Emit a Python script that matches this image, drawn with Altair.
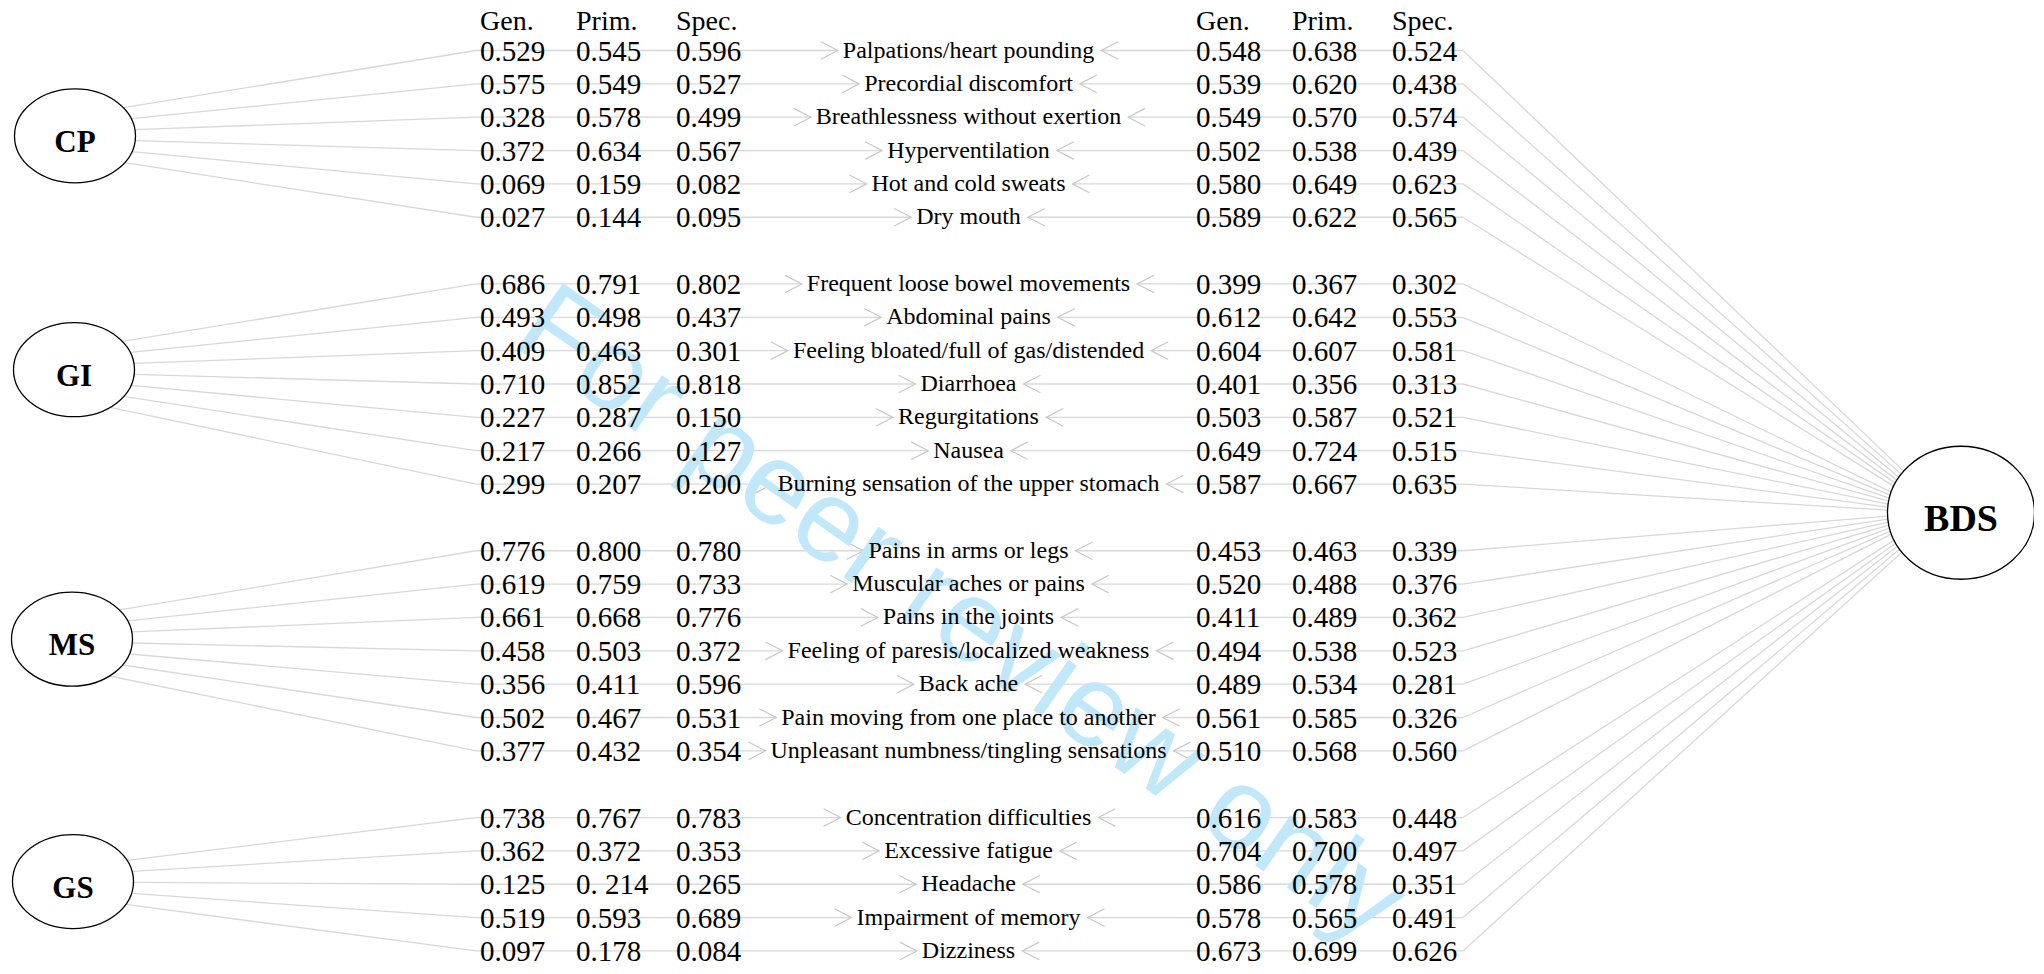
import math
import altair as alt
import pandas as pd

# ---------------- data ----------------
headers = ["Gen.", "Prim.", "Spec."]

row_group = ["CP"] * 6 + ["GI"] * 7 + ["MS"] * 7 + ["GS"] * 5
row_index = [0, 1, 2, 3, 4, 5,
             7, 8, 9, 10, 11, 12, 13,
             15, 16, 17, 18, 19, 20, 21,
             23, 24, 25, 26, 27]
symptom = [
    "Palpations/heart pounding", "Precordial discomfort", "Breathlessness without exertion",
    "Hyperventilation", "Hot and cold sweats", "Dry mouth",
    "Frequent loose bowel movements", "Abdominal pains", "Feeling bloated/full of gas/distended",
    "Diarrhoea", "Regurgitations", "Nausea", "Burning sensation of the upper stomach",
    "Pains in arms or legs", "Muscular aches or pains", "Pains in the joints",
    "Feeling of paresis/localized weakness", "Back ache", "Pain moving from one place to another",
    "Unpleasant numbness/tingling sensations",
    "Concentration difficulties", "Excessive fatigue", "Headache", "Impairment of memory", "Dizziness",
]
left_gen = ["0.529", "0.575", "0.328", "0.372", "0.069", "0.027",
            "0.686", "0.493", "0.409", "0.710", "0.227", "0.217", "0.299",
            "0.776", "0.619", "0.661", "0.458", "0.356", "0.502", "0.377",
            "0.738", "0.362", "0.125", "0.519", "0.097"]
left_prim = ["0.545", "0.549", "0.578", "0.634", "0.159", "0.144",
             "0.791", "0.498", "0.463", "0.852", "0.287", "0.266", "0.207",
             "0.800", "0.759", "0.668", "0.503", "0.411", "0.467", "0.432",
             "0.767", "0.372", "0. 214", "0.593", "0.178"]
left_spec = ["0.596", "0.527", "0.499", "0.567", "0.082", "0.095",
             "0.802", "0.437", "0.301", "0.818", "0.150", "0.127", "0.200",
             "0.780", "0.733", "0.776", "0.372", "0.596", "0.531", "0.354",
             "0.783", "0.353", "0.265", "0.689", "0.084"]
right_gen = ["0.548", "0.539", "0.549", "0.502", "0.580", "0.589",
             "0.399", "0.612", "0.604", "0.401", "0.503", "0.649", "0.587",
             "0.453", "0.520", "0.411", "0.494", "0.489", "0.561", "0.510",
             "0.616", "0.704", "0.586", "0.578", "0.673"]
right_prim = ["0.638", "0.620", "0.570", "0.538", "0.649", "0.622",
              "0.367", "0.642", "0.607", "0.356", "0.587", "0.724", "0.667",
              "0.463", "0.488", "0.489", "0.538", "0.534", "0.585", "0.568",
              "0.583", "0.700", "0.578", "0.565", "0.699"]
right_spec = ["0.524", "0.438", "0.574", "0.439", "0.623", "0.565",
              "0.302", "0.553", "0.581", "0.313", "0.521", "0.515", "0.635",
              "0.339", "0.376", "0.362", "0.523", "0.281", "0.326", "0.560",
              "0.448", "0.497", "0.351", "0.491", "0.626"]

node_names = ["CP", "GI", "MS", "GS", "BDS"]
node_row = [2.56, 9.57, 17.65, 24.92, 13.86]   # node centres, in row units

watermark_text = "For peer review only"

# ---------------- layout ----------------
W, H = 2026, 954
ROW0, ROWH = 50.5, 33.35
X_LEFT_COLS = [480, 576, 676]
X_RIGHT_COLS = [1196, 1292, 1392]
X_LABEL = 968.5
X_LEFT_JOIN = 476
X_RIGHT_JOIN = 1463
node_x = {"CP": 75, "GI": 74, "MS": 72, "GS": 73, "BDS": 1961}
SMALL_RX, SMALL_RY = 60.5, 47.0
BIG_RX, BIG_RY = 73.5, 66.5
LABEL_FS = 24
NUM_FS = 29
LINE_COL = "#d8d8d8"

TIMES = {' ': 250, '/': 278, '.': 250, 'A': 722, 'B': 667, 'C': 667, 'D': 722, 'E': 611,
         'F': 556, 'G': 722, 'H': 722, 'I': 333, 'J': 389, 'K': 722, 'L': 611, 'M': 889,
         'N': 722, 'O': 722, 'P': 556, 'Q': 722, 'R': 667, 'S': 556, 'T': 611, 'U': 722,
         'V': 722, 'W': 944, 'X': 722, 'Y': 722, 'Z': 611, 'a': 444, 'b': 500, 'c': 444,
         'd': 500, 'e': 444, 'f': 333, 'g': 500, 'h': 500, 'i': 278, 'j': 278, 'k': 500,
         'l': 278, 'm': 778, 'n': 500, 'o': 500, 'p': 500, 'q': 500, 'r': 333, 's': 389,
         't': 278, 'u': 500, 'v': 500, 'w': 722, 'x': 500, 'y': 500, 'z': 444}


def text_w(s, fs):
    return sum(TIMES.get(c, 500) for c in s) * fs / 1000.0


def py(r):
    return ROW0 + r * ROWH


def pr(y):
    return (y - ROW0) / ROWH


R_TOP = pr(8)
R_BOT = pr(8 + H)
xs = alt.Scale(domain=[8, 8 + W], nice=False, zero=False)
ys = alt.Scale(domain=[R_BOT, R_TOP], nice=False, zero=False)
X = lambda f: alt.X(f, type="quantitative", scale=xs, axis=None)
Y = lambda f: alt.Y(f, type="quantitative", scale=ys, axis=None)

node_row_of = dict(zip(node_names, node_row))

# ---------------- line geometry ----------------
diag, horiz, chev = [], [], []
for g, r, lab in zip(row_group, row_index, symptom):
    ry_px = py(r)
    # left node -> row
    cy = py(node_row_of[g])
    dy = max(-0.9 * SMALL_RY, min(0.9 * SMALL_RY, 0.33 * (ry_px - cy)))
    sx = node_x[g] + SMALL_RX * math.sqrt(1 - (dy / SMALL_RY) ** 2)
    diag.append({"x": sx, "r": pr(cy + dy), "x2": X_LEFT_JOIN, "r2": r})
    # row -> BDS
    by = py(node_row_of["BDS"])
    dyb = 0.09 * (ry_px - by)
    ex = node_x["BDS"] - BIG_RX * math.sqrt(1 - (dyb / BIG_RY) ** 2)
    diag.append({"x": X_RIGHT_JOIN, "r": r, "x2": ex, "r2": pr(by + dyb)})
    # arrows to the label
    w = text_w(lab, LABEL_FS)
    lt = X_LABEL - w / 2 - 5
    rt = X_LABEL + w / 2 + 7
    horiz.append({"x": X_LEFT_JOIN, "x2": lt, "r": r, "r2": r})
    horiz.append({"x": rt, "x2": X_RIGHT_JOIN, "r": r, "r2": r})
    chev.append({"x": lt, "r": r, "shape": "M -1 -0.52 L 0 0 L -1 0.52"})
    chev.append({"x": rt, "r": r, "shape": "M 1 -0.52 L 0 0 L 1 0.52"})

lines_df = pd.DataFrame(diag + horiz)
chev_df = pd.DataFrame(chev)

lines = alt.Chart(lines_df).mark_rule(color=LINE_COL, strokeWidth=1.3).encode(
    x=X("x"), x2="x2", y=Y("r"), y2="r2")

chevrons = alt.Chart(chev_df).mark_point(
    filled=False, stroke="#c8c8c8", strokeWidth=1.2, opacity=1, size=1156
).encode(x=X("x"), y=Y("r"), shape=alt.Shape("shape:N", scale=None))

# watermark
wm_df = pd.DataFrame({"x": [960], "r": [pr(616)], "t": [watermark_text]})
watermark = alt.Chart(wm_df).mark_text(
    font="Liberation Sans", fontSize=116, angle=35, color="#c0e7fa",
    align="center", baseline="middle"
).encode(x=X("x"), y=Y("r"), text="t:N")

# nodes
ell_small = "M -1 0 A 1 %.4f 0 1 1 1 0 A 1 %.4f 0 1 1 -1 0 Z" % (SMALL_RY / SMALL_RX, SMALL_RY / SMALL_RX)
ell_big = "M -1 0 A 1 %.4f 0 1 1 1 0 A 1 %.4f 0 1 1 -1 0 Z" % (BIG_RY / BIG_RX, BIG_RY / BIG_RX)
nodes_df = pd.DataFrame({
    "name": node_names,
    "x": [node_x[n] for n in node_names],
    "r": node_row,
    "shape": [ell_small] * 4 + [ell_big],
    "size": [(2 * SMALL_RX) ** 2] * 4 + [(2 * BIG_RX) ** 2],
    "fs": [31, 31, 31, 31, 38],
})
nodes = alt.Chart(nodes_df).mark_point(
    filled=True, fill="white", fillOpacity=1, stroke="black", strokeWidth=1.3, opacity=1
).encode(x=X("x"), y=Y("r"), shape=alt.Shape("shape:N", scale=None),
         size=alt.Size("size:Q", scale=None))
node_text = alt.Chart(nodes_df).mark_text(
    font="Liberation Serif", fontWeight="bold", align="center", baseline="middle", dy=7, color="black"
).encode(x=X("x"), y=Y("r"), text="name:N", size=alt.Size("fs:Q", scale=None))

# headers
hdr_df = pd.DataFrame({
    "x": X_LEFT_COLS + X_RIGHT_COLS,
    "r": [-0.85] * 6,
    "t": headers + headers,
})
hdr = alt.Chart(hdr_df).mark_text(
    font="Liberation Serif", fontSize=28, align="left", baseline="middle", color="black"
).encode(x=X("x"), y=Y("r"), text="t:N")

# numbers
num_rows = []
for cols, xs_ in ((left_gen, X_LEFT_COLS[0]), (left_prim, X_LEFT_COLS[1]), (left_spec, X_LEFT_COLS[2]),
                  (right_gen, X_RIGHT_COLS[0]), (right_prim, X_RIGHT_COLS[1]), (right_spec, X_RIGHT_COLS[2])):
    for r, v in zip(row_index, cols):
        num_rows.append({"x": xs_, "r": r, "t": v})
num_df = pd.DataFrame(num_rows)
nums = alt.Chart(num_df).mark_text(
    font="Liberation Serif", fontSize=NUM_FS, align="left", baseline="middle", color="black", dy=1
).encode(x=X("x"), y=Y("r"), text="t:N")

# symptom labels
lab_df = pd.DataFrame({"x": [X_LABEL] * len(symptom), "r": row_index, "t": symptom})
labels = alt.Chart(lab_df).mark_text(
    font="Liberation Serif", fontSize=LABEL_FS, align="center", baseline="middle", color="black"
).encode(x=X("x"), y=Y("r"), text="t:N")

chart = alt.layer(lines, chevrons, watermark, nodes, node_text, hdr, nums, labels).properties(
    width=W, height=H, padding=0, autosize="none", background="white"
).configure_view(stroke=None)

chart.save("out.html", embed_options={"renderer": "svg", "actions": False})
